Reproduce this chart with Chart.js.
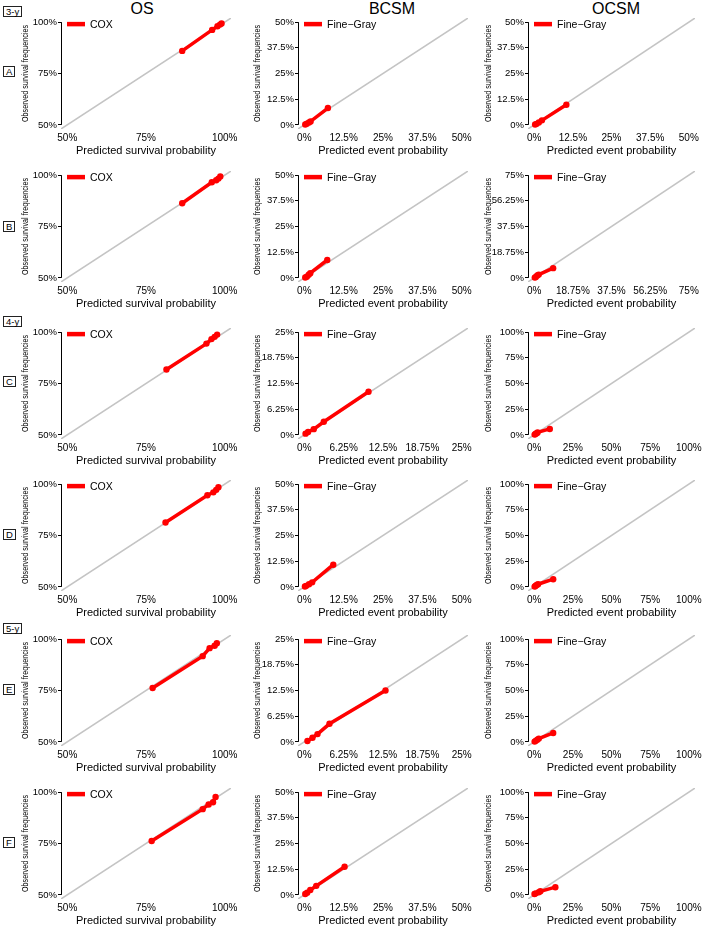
<!DOCTYPE html>
<html>
<head>
<meta charset="utf-8">
<script src="https://cdn.jsdelivr.net/npm/chart.js@4.4.1/dist/chart.umd.min.js"></script>
<style>
  body { margin: 0; background: #fff; width: 709px; height: 926px; position: relative; overflow: hidden;
         font-family: "Liberation Sans", Arial, sans-serif; color: #000; }
  canvas { position: absolute; }
  .ttl { position: absolute; font-size: 16px; transform: translateX(-50%); white-space: nowrap; }
  .box { position: absolute; border: 1px solid #222; font-size: 9.5px; line-height: 9px; padding: 0 2px; }
</style>
</head>
<body>
<div class="ttl" style="left:142px;top:0px">OS</div>
<div class="ttl" style="left:392px;top:0px">BCSM</div>
<div class="ttl" style="left:616px;top:0px">OCSM</div>

<div class="box" style="left:3px;top:6px">3-y</div>
<div class="box" style="left:3px;top:316px">4-y</div>
<div class="box" style="left:3px;top:623px">5-y</div>

<div class="box" style="left:3px;top:66px">A</div>
<div class="box" style="left:3px;top:221px">B</div>
<div class="box" style="left:3px;top:376px">C</div>
<div class="box" style="left:3px;top:529px">D</div>
<div class="box" style="left:3px;top:684px">E</div>
<div class="box" style="left:3px;top:837px">F</div>

<script>
// tick sets (percent)
const osTicks = [50, 75, 100];
const ticks50 = [0, 12.5, 25, 37.5, 50];
const ticks25 = [0, 6.25, 12.5, 18.75, 25];
const ticks75 = [0, 18.75, 37.5, 56.25, 75];
const ticks100 = [0, 25, 50, 75, 100];

// A: 3-y
const osPredA = [86.5, 96.0, 97.7, 98.5, 99.0];
const osObsA  = [86.0, 96.2, 98.0, 98.8, 99.3];
const bcsmPredA = [0.3, 0.8, 1.5, 2.0, 7.5];
const bcsmObsA  = [0.2, 0.6, 1.2, 1.7, 8.2];
const ocsmPredA = [0.3, 0.8, 1.5, 2.5, 10.4];
const ocsmObsA  = [0.2, 0.5, 1.2, 2.2, 9.8];
// B: 3-y
const osPredB = [86.5, 95.9, 97.3, 98.0, 98.6];
const osObsB  = [86.3, 96.5, 97.5, 98.3, 99.3];
const bcsmPredB = [0.3, 0.8, 1.4, 1.9, 7.3];
const bcsmObsB  = [0.2, 0.6, 1.5, 2.3, 8.7];
const ocsmPredB = [0.3, 0.8, 1.5, 2.2, 9.2];
const ocsmObsB  = [0.2, 0.6, 1.8, 2.4, 7.1];
// C: 4-y
const osPredC = [81.5, 94.2, 95.8, 96.8, 97.6];
const osObsC  = [81.8, 94.4, 96.6, 97.7, 98.8];
const bcsmPredC = [0.2, 0.6, 1.5, 3.1, 10.2];
const bcsmObsC  = [0.3, 0.7, 1.4, 3.2, 10.5];
const ocsmPredC = [0.3, 0.8, 1.6, 2.2, 10.1];
const ocsmObsC  = [0.3, 0.8, 1.7, 2.4, 5.8];
// D: 4-y
const osPredD = [81.2, 94.5, 96.4, 97.3, 98.0];
const osObsD  = [81.3, 94.6, 96.0, 97.2, 98.5];
const bcsmPredD = [0.2, 0.6, 1.5, 2.5, 9.2];
const bcsmObsD  = [0.2, 0.5, 1.3, 2.2, 10.8];
const ocsmPredD = [0.3, 0.8, 1.6, 2.5, 12.3];
const ocsmObsD  = [0.3, 0.8, 1.8, 2.6, 7.5];
// E: 5-y
const osPredE = [77.1, 93.0, 95.2, 96.8, 97.5];
const osObsE  = [76.2, 91.7, 95.6, 96.8, 98.0];
const bcsmPredE = [0.5, 1.3, 2.1, 4.0, 12.9];
const bcsmObsE  = [0.2, 1.0, 1.9, 4.4, 12.5];
const ocsmPredE = [0.3, 1.0, 2.0, 3.0, 12.3];
const ocsmObsE  = [0.3, 1.0, 2.2, 3.2, 8.7];
// F: 5-y
const osPredF = [76.8, 93.0, 94.9, 96.3, 97.1];
const osObsF  = [76.2, 91.7, 94.0, 95.1, 97.6];
const bcsmPredF = [0.3, 0.9, 1.9, 3.8, 12.8];
const bcsmObsF  = [0.4, 1.1, 2.4, 4.4, 13.7];
const ocsmPredF = [0.2, 1.0, 3.0, 4.0, 13.7];
const ocsmObsF  = [0.8, 1.5, 2.6, 3.5, 7.5];

const yTitle = "Observed survival frequencies";
const xTitleOS = "Predicted survival probability";
const xTitleEv = "Predicted event probability";

// layout (px)
const colLeft = [61, 298, 528];
const colWidth = [170, 170, 167];
const yTitleOffset = [-36, -41, -40];
const rowTopTick = [22, 175, 332, 484, 639, 792];
const regionH = 111;
const padL = 60, padR = 16, padT = 10, xH = 29;

const panels = [
  [0, 0, osTicks, osPredA, osObsA, "COX", xTitleOS],
  [0, 1, ticks50, bcsmPredA, bcsmObsA, "Fine\u2212Gray", xTitleEv],
  [0, 2, ticks50, ocsmPredA, ocsmObsA, "Fine\u2212Gray", xTitleEv],
  [1, 0, osTicks, osPredB, osObsB, "COX", xTitleOS],
  [1, 1, ticks50, bcsmPredB, bcsmObsB, "Fine\u2212Gray", xTitleEv],
  [1, 2, ticks75, ocsmPredB, ocsmObsB, "Fine\u2212Gray", xTitleEv],
  [2, 0, osTicks, osPredC, osObsC, "COX", xTitleOS],
  [2, 1, ticks25, bcsmPredC, bcsmObsC, "Fine\u2212Gray", xTitleEv],
  [2, 2, ticks100, ocsmPredC, ocsmObsC, "Fine\u2212Gray", xTitleEv],
  [3, 0, osTicks, osPredD, osObsD, "COX", xTitleOS],
  [3, 1, ticks50, bcsmPredD, bcsmObsD, "Fine\u2212Gray", xTitleEv],
  [3, 2, ticks100, ocsmPredD, ocsmObsD, "Fine\u2212Gray", xTitleEv],
  [4, 0, osTicks, osPredE, osObsE, "COX", xTitleOS],
  [4, 1, ticks25, bcsmPredE, bcsmObsE, "Fine\u2212Gray", xTitleEv],
  [4, 2, ticks100, ocsmPredE, ocsmObsE, "Fine\u2212Gray", xTitleEv],
  [5, 0, osTicks, osPredF, osObsF, "COX", xTitleOS],
  [5, 1, ticks50, bcsmPredF, bcsmObsF, "Fine\u2212Gray", xTitleEv],
  [5, 2, ticks100, ocsmPredF, ocsmObsF, "Fine\u2212Gray", xTitleEv]
];

// y axis line between end ticks, legend and condensed y title
const decor = {
  id: "decor",
  afterDraw(chart, args, opts) {
    const { ctx, chartArea, scales } = chart;
    const y = scales.y;
    const tk = y.ticks;
    const yTop = y.getPixelForValue(tk[tk.length - 1].value);
    const yBot = y.getPixelForValue(tk[0].value);
    ctx.save();
    ctx.strokeStyle = "#000";
    ctx.lineWidth = 1;
    ctx.beginPath();
    ctx.moveTo(chartArea.left + 0.5, yTop);
    ctx.lineTo(chartArea.left + 0.5, yBot);
    ctx.stroke();

    const ds = chart.data.datasets[0];
    const ly = yTop + 2;
    ctx.strokeStyle = ds.borderColor;
    ctx.lineWidth = 4.5;
    ctx.beginPath();
    ctx.moveTo(chartArea.left + 6, ly);
    ctx.lineTo(chartArea.left + 24, ly);
    ctx.stroke();
    ctx.fillStyle = "#000";
    ctx.font = '10.5px "Liberation Sans", Arial, sans-serif';
    ctx.textAlign = "left";
    ctx.textBaseline = "middle";
    ctx.fillText(ds.label, chartArea.left + 29, ly + 0.5);

    ctx.translate(chartArea.left + opts.titleOffset, (yTop + yBot) / 2);
    ctx.rotate(-Math.PI / 2);
    ctx.scale(0.76, 1);
    ctx.font = '9.5px "Liberation Sans", Arial, sans-serif';
    ctx.textAlign = "center";
    ctx.fillText(yTitle, 0, 0);
    ctx.restore();
  }
};

function pct(v) { return v + "%"; }

panels.forEach(([row, col, tks, pred, obs, model, xTitle]) => {
  const lo = tks[0], hi = tks[tks.length - 1];
  const ext = (hi - lo) * 0.04;
  const mn = lo - ext, mx = hi + ext;

  const cv = document.createElement("canvas");
  const w = padL + colWidth[col] + padR;
  const h = padT + regionH + xH;
  cv.width = w; cv.height = h;
  cv.style.left = (colLeft[col] - padL) + "px";
  cv.style.top = (rowTopTick[row] - 4 - padT) + "px";
  cv.style.width = w + "px"; cv.style.height = h + "px";
  document.body.appendChild(cv);

  new Chart(cv.getContext("2d"), {
    type: "line",
    data: {
      datasets: [
        {
          label: model,
          data: pred.map((p, i) => ({ x: p, y: obs[i] })),
          borderColor: "#ff0000",
          backgroundColor: "#ff0000",
          borderWidth: 3.5,
          pointRadius: 3.2,
          pointBorderWidth: 0,
          pointBackgroundColor: "#ff0000"
        },
        {
          label: "diag",
          data: [{ x: mn, y: mn }, { x: mx, y: mx }],
          borderColor: "#c4c4c4",
          borderWidth: 1.5,
          pointRadius: 0
        }
      ]
    },
    options: {
      responsive: false,
      animation: false,
      devicePixelRatio: 1,
      layout: { padding: { left: 0, right: padR, top: padT, bottom: 0 } },
      plugins: {
        legend: { display: false },
        tooltip: { enabled: false },
        decor: { titleOffset: yTitleOffset[col] }
      },
      scales: {
        x: {
          type: "linear",
          min: mn, max: mx,
          afterBuildTicks: s => { s.ticks = tks.map(v => ({ value: v })); },
          afterFit: s => { s.height = xH; },
          grid: { display: false, drawTicks: false },
          border: { display: false },
          ticks: { callback: pct, color: "#000", padding: 3, autoSkip: false, maxRotation: 0,
                   font: { family: '"Liberation Sans", Arial, sans-serif', size: 10 } },
          title: { display: true, text: xTitle, color: "#000", padding: { top: 0, bottom: 0 },
                   font: { family: '"Liberation Sans", Arial, sans-serif', size: 11 } }
        },
        y: {
          type: "linear",
          min: mn, max: mx,
          afterBuildTicks: s => { s.ticks = tks.map(v => ({ value: v })); },
          afterFit: s => { s.width = padL; },
          grid: { display: true, drawOnChartArea: false, drawTicks: true, tickLength: 3, tickColor: "#000" },
          border: { display: false },
          ticks: { callback: pct, color: "#000", padding: 1, autoSkip: false,
                   font: { family: '"Liberation Sans", Arial, sans-serif', size: 9.5 } }
        }
      }
    },
    plugins: [decor]
  });
});
</script>
</body>
</html>
